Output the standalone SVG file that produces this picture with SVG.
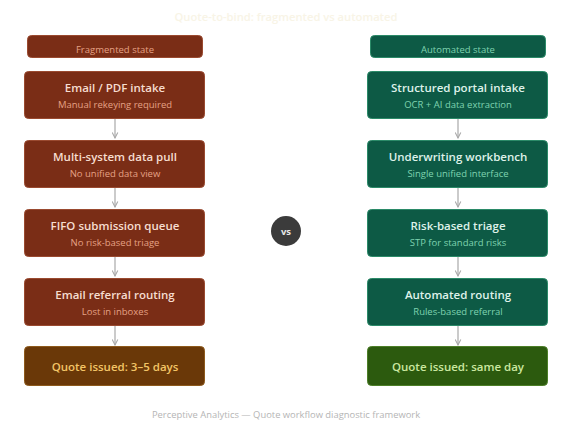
<svg xmlns="http://www.w3.org/2000/svg" width="572" height="429" viewBox="0 0 572 429">
<defs>
<style>
text{font-family:"Open Sans","Noto Sans","Liberation Sans",sans-serif;text-anchor:middle}
.fr{fill:#7a2d16;stroke:#9a4a30;stroke-width:1}
.au{fill:#0d5a45;stroke:#2b8a68;stroke-width:1}
.ttl{font-size:11.5px;font-weight:600}
.sub{font-size:9.5px}
.frt{fill:#f6ddd0}.frs{fill:#e5a185}
.aut{fill:#dff2ea}.aus{fill:#7fd3b0}
.hd{font-size:9.5px}
.conn{stroke:#a8a8a8;stroke-width:1.2;fill:none}
</style>
<marker id="ah" viewBox="0 0 10 10" refX="9" refY="5" markerWidth="7" markerHeight="7" orient="auto" markerUnits="userSpaceOnUse">
<path d="M1,1 L9,5 L1,9" fill="none" stroke="#a8a8a8" stroke-width="1.5"/>
</marker>
</defs>
<rect width="572" height="429" fill="#ffffff"/>
<text x="286" y="21" style="font-size:11.2px;font-weight:600;fill:#f8f4e6">Quote-to-bind: fragmented vs automated</text>

<g id="connectors">
<line class="conn" x1="115" y1="119" x2="115" y2="138" marker-end="url(#ah)"/>
<line class="conn" x1="115" y1="188" x2="115" y2="207" marker-end="url(#ah)"/>
<line class="conn" x1="115" y1="257" x2="115" y2="276" marker-end="url(#ah)"/>
<line class="conn" x1="115" y1="326" x2="115" y2="345" marker-end="url(#ah)"/>
<line class="conn" x1="458" y1="119" x2="458" y2="138" marker-end="url(#ah)"/>
<line class="conn" x1="458" y1="188" x2="458" y2="207" marker-end="url(#ah)"/>
<line class="conn" x1="458" y1="257" x2="458" y2="276" marker-end="url(#ah)"/>
<line class="conn" x1="458" y1="326" x2="458" y2="345" marker-end="url(#ah)"/>
</g>

<g id="hdr-frag"><rect class="fr" x="27.5" y="35.5" width="175" height="22" rx="4"/><text class="hd frs" x="115" y="53">Fragmented state</text></g>
<g id="hdr-auto"><rect class="au" x="370.5" y="35.5" width="175" height="22" rx="4"/><text class="hd aus" x="458" y="53">Automated state</text></g>

<g id="f1"><rect class="fr" x="24.5" y="71.5" width="180" height="47" rx="4"/><text class="ttl frt" x="115" y="92">Email / PDF intake</text><text class="sub frs" x="115" y="108">Manual rekeying required</text></g>
<g id="f2"><rect class="fr" x="24.5" y="140.5" width="180" height="47" rx="4"/><text class="ttl frt" x="115" y="161">Multi-system data pull</text><text class="sub frs" x="115" y="177">No unified data view</text></g>
<g id="f3"><rect class="fr" x="24.5" y="209.5" width="180" height="47" rx="4"/><text class="ttl frt" x="115" y="230">FIFO submission queue</text><text class="sub frs" x="115" y="246">No risk-based triage</text></g>
<g id="f4"><rect class="fr" x="24.5" y="278.5" width="180" height="47" rx="4"/><text class="ttl frt" x="115" y="299">Email referral routing</text><text class="sub frs" x="115" y="315">Lost in inboxes</text></g>
<g id="f5"><rect x="24.5" y="346.5" width="180" height="39" rx="4" fill="#6a3808" stroke="#8e5a1c"/><text class="ttl" x="115" y="371" style="fill:#f3c566">Quote issued: 3–5 days</text></g>

<g id="a1"><rect class="au" x="367.5" y="71.5" width="180" height="47" rx="4"/><text class="ttl aut" x="458" y="92">Structured portal intake</text><text class="sub aus" x="458" y="108">OCR + AI data extraction</text></g>
<g id="a2"><rect class="au" x="367.5" y="140.5" width="180" height="47" rx="4"/><text class="ttl aut" x="458" y="161">Underwriting workbench</text><text class="sub aus" x="458" y="177">Single unified interface</text></g>
<g id="a3"><rect class="au" x="367.5" y="209.5" width="180" height="47" rx="4"/><text class="ttl aut" x="458" y="230">Risk-based triage</text><text class="sub aus" x="458" y="246">STP for standard risks</text></g>
<g id="a4"><rect class="au" x="367.5" y="278.5" width="180" height="47" rx="4"/><text class="ttl aut" x="458" y="299">Automated routing</text><text class="sub aus" x="458" y="315">Rules-based referral</text></g>
<g id="a5"><rect x="367.5" y="346.5" width="180" height="39" rx="4" fill="#2c5a0e" stroke="#4d7f28"/><text class="ttl" x="458" y="371" style="fill:#cbe8a0">Quote issued: same day</text></g>

<g id="vs"><circle cx="286" cy="231" r="15" fill="#3b3b3b"/><text x="286" y="234.5" style="font-size:9.5px;font-weight:700;fill:#e6e6e6">vs</text></g>

<text x="286" y="418" style="font-size:9.4px;fill:#b5b5b5">Perceptive Analytics — Quote workflow diagnostic framework</text>
</svg>
